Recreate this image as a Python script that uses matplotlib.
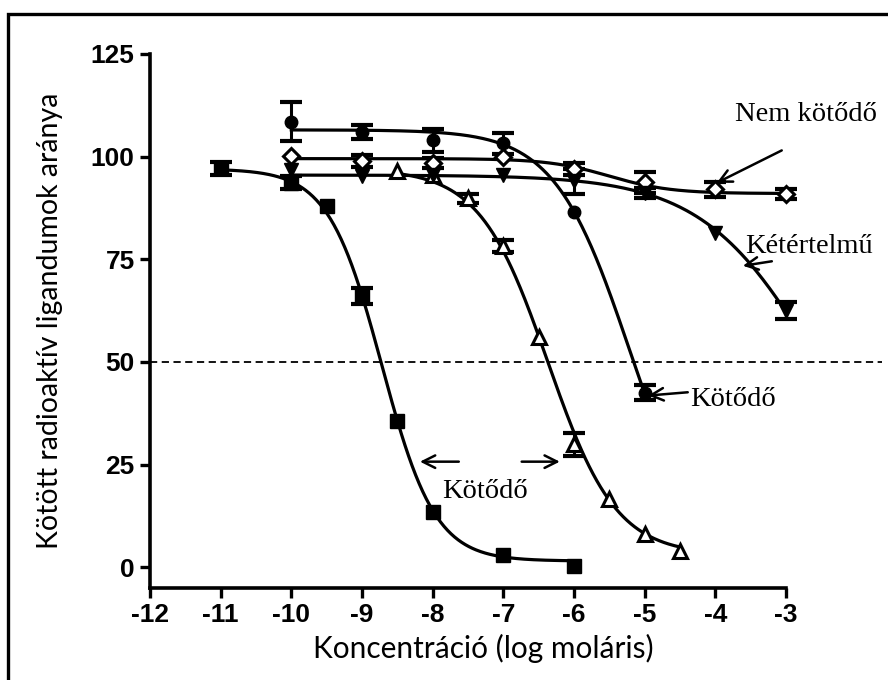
import numpy as np
import matplotlib
matplotlib.use("Agg")
import matplotlib.pyplot as plt
from matplotlib.patches import Rectangle

nan = np.nan

# log concentration / bound fraction (%) with SEM
sq_x = [-11, -10, -9.5, -9, -8.5, -8, -7, -6]
sq_y = [97.2, 93.6, 88, 66, 35.5, 13.5, 3, 0.2]
sq_err = [1.6, 1.6, nan, 2.0, nan, nan, nan, nan]

ci_x = [-10, -9, -8, -7, -6, -5]
ci_y = [108.5, 106, 104, 103.2, 86.5, 42.5]
ci_err = [4.8, 1.6, 2.8, 2.6, nan, 1.8]

tr_x = [-8.5, -8, -7.5, -7, -6.5, -6, -5.5, -5, -4.5]
tr_y = [96.5, 95.5, 89.8, 78.2, 56, 29.9, 16.5, 8, 4]
tr_err = [nan, nan, 1.0, 1.4, nan, 2.9, nan, nan, nan]

di_x = [-10, -9, -8, -7, -6, -5, -4, -3]
di_y = [100.2, 98.9, 98.5, 100, 97, 93.7, 92, 90.8]
di_err = [nan, 1.4, 1.2, nan, 1.5, 2.5, 1.8, 1.2]

it_x = [-10, -9, -8, -7, -6, -5, -4, -3]
it_y = [96.8, 95.2, 95.4, 95.5, 94, 91.2, 81.5, 62.5]
it_err = [nan, nan, nan, nan, 3.0, 1.2, nan, 2.0]

# sigmoidal fits: top, bottom, logEC50, hill slope, x range
sq_fit = (97, 1.5, -8.72, 1.15, -11, -6)
ci_fit = (106.5, 0, -5.22, 0.82, -10, -5)
tr_fit = (97, 3, -6.37, 0.9, -8.5, -4.5)
di_fit = (99.5, 91, -5.5, 1.0, -10, -3)
it_fit = (95.5, 0, -2.48, 0.52, -10, -3)


def logistic(fit):
    top, bottom, ec, hill, x0, x1 = fit
    xs = np.linspace(x0, x1, 300)
    return xs, bottom + (top - bottom) / (1 + 10 ** ((xs - ec) * hill))


plt.rcParams["font.family"] = "Liberation Sans"
plt.rcParams["font.weight"] = "bold"
plt.rcParams["axes.unicode_minus"] = False

fig = plt.figure(figsize=(8.88, 6.8), dpi=100)
ax = fig.add_axes([0.1689, 0.1357, 0.7162, 0.785])

# outer frame
fig.patches.append(Rectangle((8 / 888, -0.1), 1.2, 1 - 14 / 680 + 0.1,
                             transform=fig.transFigure, fill=False,
                             lw=2.4, ec="black", zorder=0))

LW = 2.3
series = [
    (sq_x, sq_y, sq_err, sq_fit, dict(marker="s", ms=9.5, mfc="black")),
    (ci_x, ci_y, ci_err, ci_fit, dict(marker="o", ms=9, mfc="black")),
    (tr_x, tr_y, tr_err, tr_fit, dict(marker="^", ms=10.5, mfc="white", mew=2.2)),
    (di_x, di_y, di_err, di_fit, dict(marker="D", ms=8, mfc="white", mew=2.2)),
    (it_x, it_y, it_err, it_fit, dict(marker="v", ms=10.5, mfc="black")),
]

for x, y, err, fit, mk in series:
    xs, ys = logistic(fit)
    ax.plot(xs, ys, color="black", lw=LW, zorder=2, clip_on=False)
    eb = ax.errorbar(x, y, yerr=err, fmt="none", ecolor="black",
                     elinewidth=2.2, capsize=8, capthick=3, zorder=3)
    for art in eb.lines[1] + eb.lines[2]:
        art.set_clip_on(False)
    ax.plot(x, y, ls="none", mec="black", zorder=4, clip_on=False, **mk)

# half-maximal reference line
ax.plot([-12, -1.64], [50, 50], ls=(0, (4, 2.5)), color="black", lw=1.3,
        clip_on=False, zorder=1)

serif = dict(family="Liberation Serif", fontsize=20.5, fontweight="normal")
arw = dict(arrowstyle="->,head_length=0.9,head_width=0.45", lw=1.8,
           color="black", shrinkA=0, shrinkB=0)

ax.text(-3.72, 110.3, "Nem kötődő", va="center", ha="left", **serif)
ax.annotate("", xy=(-3.98, 93.6), xytext=(-3.06, 101.5), arrowprops=arw,
            annotation_clip=False)

ax.text(-3.58, 78.1, "Kétértelmű", va="center", ha="left", **serif)
ax.annotate("", xy=(-3.61, 73.4), xytext=(-3.2, 74.5), arrowprops=arw,
            annotation_clip=False)

ax.text(-4.36, 40.8, "Kötődő", va="center", ha="left", **serif)
ax.annotate("", xy=(-4.95, 41.8), xytext=(-4.39, 42.6), arrowprops=arw)

ax.text(-7.26, 18.4, "Kötődő", va="center", ha="center", **serif)
ax.annotate("", xy=(-8.18, 25.7), xytext=(-7.63, 25.7), arrowprops=arw)
ax.annotate("", xy=(-6.2, 25.7), xytext=(-6.74, 25.7), arrowprops=arw)

ax.set_xlim(-12, -3)
ax.set_ylim(-5, 125)
ax.set_xticks(range(-12, -2))
ax.set_yticks(range(0, 126, 25))
ax.spines["top"].set_visible(False)
ax.spines["right"].set_visible(False)
for side in ("left", "bottom"):
    ax.spines[side].set_linewidth(2.6)
ax.tick_params(width=2.4, length=7, labelsize=19, pad=4)

ax.set_xlabel("Koncentráció (log moláris)", family="Lato", fontsize=21.5,
              fontweight="normal", labelpad=5)
ax.xaxis.label.set_x(0.524)
ax.set_ylabel("Kötött radioaktív ligandumok aránya", family="Lato",
              fontsize=20.5, fontweight="normal", labelpad=20)

fig.savefig("out.png", dpi=100)
